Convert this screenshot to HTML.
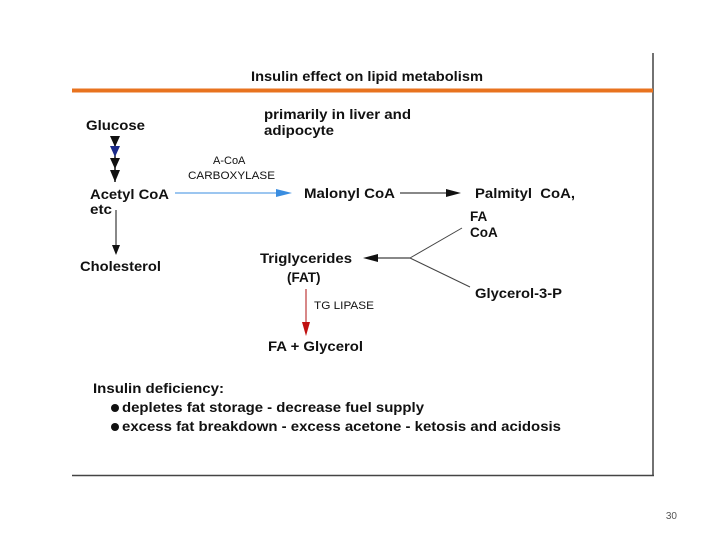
<!DOCTYPE html>
<html><head><style>
body{margin:0;background:#fff;}
svg{display:block;}
text{font-family:"Liberation Sans",sans-serif;fill:#111;}
.b{font-weight:bold;fill:#1a1a1a;}
</style></head><body>
<svg width="720" height="540" viewBox="0 0 720 540">
<line x1="653" y1="53" x2="653" y2="476" stroke="#444" stroke-width="1.5"/>
<line x1="72" y1="475.5" x2="654" y2="475.5" stroke="#444" stroke-width="1.5"/>
<line x1="72" y1="90.5" x2="653" y2="90.5" stroke="#e8731f" stroke-width="4"/>
<g class="b" font-size="13.5">
<text x="251" y="81" textLength="232" lengthAdjust="spacingAndGlyphs">Insulin effect on lipid metabolism</text>
<text x="86" y="130" textLength="59" lengthAdjust="spacingAndGlyphs">Glucose</text>
<text x="264" y="119" textLength="147" lengthAdjust="spacingAndGlyphs">primarily in liver and</text>
<text x="264" y="135" textLength="70" lengthAdjust="spacingAndGlyphs">adipocyte</text>
<text x="90" y="199" textLength="79" lengthAdjust="spacingAndGlyphs">Acetyl CoA</text>
<text x="90" y="214" textLength="22" lengthAdjust="spacingAndGlyphs">etc</text>
<text x="304" y="198" textLength="91" lengthAdjust="spacingAndGlyphs">Malonyl CoA</text>
<text x="475" y="198" textLength="100" lengthAdjust="spacingAndGlyphs">Palmityl&#160; CoA,</text>
<text x="470" y="221">FA</text>
<text x="470" y="237">CoA</text>
<text x="80" y="271" textLength="81" lengthAdjust="spacingAndGlyphs">Cholesterol</text>
<text x="260" y="263" textLength="92" lengthAdjust="spacingAndGlyphs">Triglycerides</text>
<text x="287" y="282">(FAT)</text>
<text x="475" y="298" textLength="87" lengthAdjust="spacingAndGlyphs">Glycerol-3-P</text>
<text x="268" y="351" textLength="95" lengthAdjust="spacingAndGlyphs">FA + Glycerol</text>
<text x="93" y="393" textLength="131" lengthAdjust="spacingAndGlyphs">Insulin deficiency:</text>
<text x="122" y="412" textLength="302" lengthAdjust="spacingAndGlyphs">depletes fat storage - decrease fuel supply</text>
<text x="122" y="431" textLength="439" lengthAdjust="spacingAndGlyphs">excess fat breakdown - excess acetone - ketosis and acidosis</text>
</g>
<g class="b" font-size="11" style="font-weight:normal">
<text x="213" y="164">A-CoA</text>
<text x="188" y="179" textLength="87" lengthAdjust="spacingAndGlyphs">CARBOXYLASE</text>
<text x="314" y="309" textLength="60" lengthAdjust="spacingAndGlyphs">TG LIPASE</text>
</g>
<circle cx="115" cy="408" r="4" fill="#111"/>
<circle cx="115" cy="427" r="4" fill="#111"/>
<line x1="115" y1="136" x2="115" y2="182" stroke="#111" stroke-width="1.5"/>
<polygon points="110,136 120,136 115,147" fill="#111"/>
<polygon points="110,146 120,146 115,157" fill="#1a2a8a"/>
<polygon points="110,158 120,158 115,169" fill="#111"/>
<polygon points="110,170 120,170 115,182" fill="#111"/>
<line x1="116" y1="210" x2="116" y2="247" stroke="#111" stroke-width="1"/>
<polygon points="112,245 120,245 116,255" fill="#111"/>
<line x1="175" y1="193" x2="278" y2="193" stroke="#3a8de0" stroke-width="1"/>
<polygon points="276,189 292,193 276,197" fill="#3a8de0"/>
<line x1="400" y1="193" x2="448" y2="193" stroke="#111" stroke-width="1"/>
<polygon points="446,189 461,193 446,197" fill="#111"/>
<line x1="376" y1="258" x2="410" y2="258" stroke="#111" stroke-width="1"/>
<polygon points="378,254 363,258 378,262" fill="#111"/>
<line x1="410" y1="258" x2="462" y2="228" stroke="#444" stroke-width="1"/>
<line x1="410" y1="258" x2="470" y2="287" stroke="#444" stroke-width="1"/>
<line x1="306" y1="289" x2="306" y2="324" stroke="#b01010" stroke-width="1"/>
<polygon points="302,322 310,322 306,336" fill="#c01010"/>
<text x="677" y="519" font-size="10" text-anchor="end" style="fill:#555">30</text>
</svg>
</body></html>
